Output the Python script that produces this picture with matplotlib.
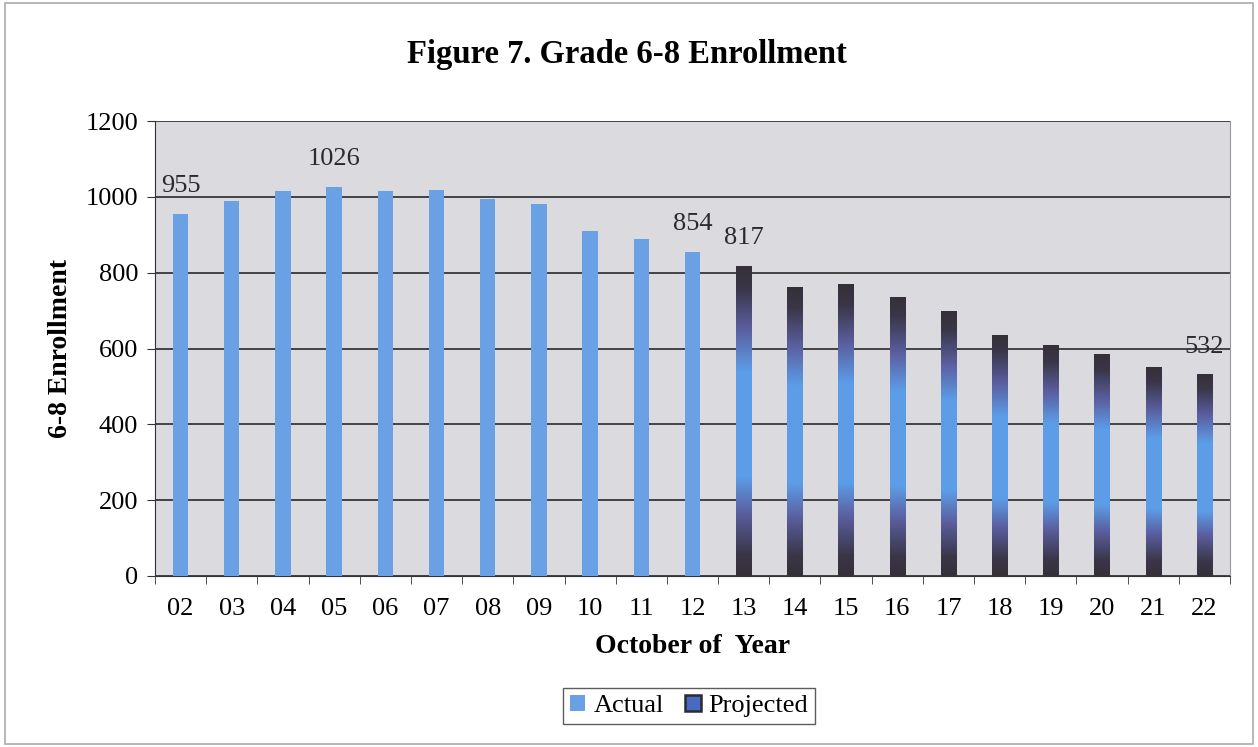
import matplotlib.pyplot as plt
import numpy as np
from matplotlib.colors import LinearSegmentedColormap
from matplotlib.patches import Patch, Rectangle

# data
years = ['02', '03', '04', '05', '06', '07', '08', '09', '10', '11', '12',
         '13', '14', '15', '16', '17', '18', '19', '20', '21', '22']
actual = [955, 989, 1015, 1026, 1015, 1018, 994, 981, 910, 889, 854]
projected = [817, 762, 770, 736, 699, 636, 609, 585, 551, 532]
labelled = {'02': 955, '05': 1026, '12': 854, '13': 817, '22': 532}

plt.rcParams['font.family'] = ['Liberation Serif', 'DejaVu Serif']

fig = plt.figure(figsize=(12.58, 7.47), dpi=100)
ax = fig.add_axes([155 / 1258, 1 - 576 / 747, 1075 / 1258, 455 / 747])
ax.set_facecolor('#dadadf')

x = np.arange(len(years))
w = 0.3
n_act = len(actual)

ax.bar(x[:n_act], actual, width=w, color='#6aa0e4', zorder=3)

# projected bars: dark - blue - dark vertical gradient
cmap = LinearSegmentedColormap.from_list(
    'proj', [(0.0, '#353038'), (0.07, '#3a3648'), (0.2, '#5a5e9e'), (0.32, '#5d9de8'),
             (0.66, '#5d9de8'), (0.8, '#5a5e9e'), (0.93, '#3a3648'), (1.0, '#353038')])
grad = np.linspace(0, 1, 256).reshape(-1, 1)
bars = ax.bar(x[n_act:], projected, width=w, color='none', zorder=3)
for b in bars:
    x0, h = b.get_x(), b.get_height()
    im = ax.imshow(grad, cmap=cmap, aspect='auto', origin='lower',
                   extent=[x0, x0 + w, 0, h], zorder=3)
    im.set_clip_path(b)

for i, yr in enumerate(years):
    if yr in labelled:
        ax.annotate(str(labelled[yr]), (x[i], labelled[yr]), xytext=(0, 20),
                    textcoords='offset points', ha='center', va='center',
                    fontsize=19, color='#2a2a2a', zorder=4, annotation_clip=False)

ax.set_xlim(-0.5, len(years) - 0.5)
ax.set_ylim(0, 1200)
ax.set_yticks(range(0, 1201, 200))
ax.yaxis.grid(True, color='#1a1a1a', linewidth=1.1, zorder=1)
ax.set_axisbelow(True)

ax.set_xticks(x)
ax.set_xticklabels(years, fontsize=19)
ax.set_xticks(np.arange(-0.5, len(years)), minor=True)
ax.tick_params(axis='x', which='major', length=0, pad=16)
ax.tick_params(axis='x', which='minor', length=6, direction='out', color='#333333')
ax.tick_params(axis='y', labelsize=19, length=6, direction='out', color='#333333', pad=6)

ax.spines['top'].set_visible(False)
ax.spines['right'].set_color('#999999')
ax.spines['left'].set_color('#333333')
ax.spines['bottom'].set_color('#333333')

ax.set_xlabel('October of  Year', fontsize=20, fontweight='bold', labelpad=10)
ax.set_ylabel('6-8 Enrollment', fontsize=20, fontweight='bold', labelpad=9)
fig.text(627 / 1258, 1 - 55 / 747, 'Figure 7. Grade 6-8 Enrollment', ha='center',
         va='center', fontsize=23.5, fontweight='bold')

handles = [Patch(facecolor='#6aa0e4', edgecolor='none', label='Actual'),
           Patch(facecolor='#4a6ac0', edgecolor='#2a2a30', linewidth=1.8, label='Projected')]
fig.legend(handles=handles, loc='center', bbox_to_anchor=(689 / 1258, 1 - 706 / 747),
           ncol=2, fontsize=19, frameon=True, fancybox=False, edgecolor='#333333',
           handlelength=0.6, handleheight=0.6, handletextpad=0.3, columnspacing=0.8,
           borderpad=0.25, borderaxespad=0)

fig.patches.append(Rectangle((0.004, 0.004), 0.992, 0.992, transform=fig.transFigure,
                             fill=False, edgecolor='#aaaaaa', linewidth=1.2))

fig.savefig('out.png', dpi=100)
